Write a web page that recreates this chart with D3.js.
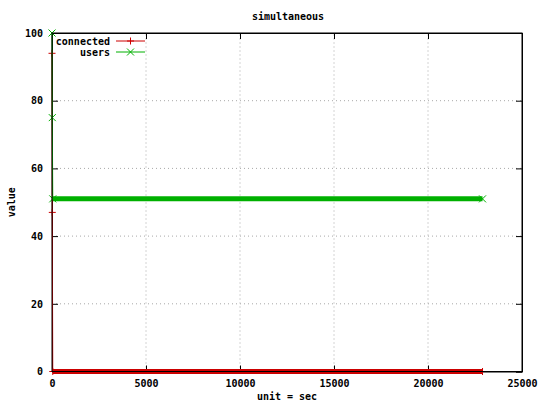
<!DOCTYPE html>
<html>
<head>
<meta charset="UTF-8" />
<title>simultaneous</title>
<script src="https://cdn.jsdelivr.net/npm/d3@7"></script>
<style>
  body { margin: 0; background: #fff; }
  text { font-family: "DejaVu Sans Mono", monospace; font-weight: bold; font-size: 10px; fill: #000; }
</style>
</head>
<body>
<svg id="chart"></svg>
<script>
// data
const connectedTime = [0, 15, 40, 22900];
const connectedValue = [94, 47, 0, 0];
const usersTime = [0, 15, 40, 22900];
const usersValue = [100, 75, 51, 51];
const xTicks = [0, 5000, 10000, 15000, 20000, 25000];
const yTicks = [0, 20, 40, 60, 80, 100];

const width = 540, height = 405;
const margin = {top: 33, right: 18, bottom: 33.5, left: 52};

const svg = d3.select("#chart").attr("width", width).attr("height", height);

const x = d3.scaleLinear().domain([0, 25000]).range([margin.left, width - margin.right]);
const y = d3.scaleLinear().domain([0, 100]).range([height - margin.bottom, margin.top]);

// grid
svg.append("g").selectAll("line").data(xTicks.slice(1, -1)).enter().append("line")
    .attr("x1", d => x(d)).attr("x2", d => x(d))
    .attr("y1", y(0)).attr("y2", y(100))
    .attr("stroke", "#a8a8a8").attr("stroke-dasharray", "1,3");
svg.append("g").selectAll("line").data(yTicks.slice(1, -1)).enter().append("line")
    .attr("x1", x(0)).attr("x2", x(25000))
    .attr("y1", d => y(d)).attr("y2", d => y(d))
    .attr("stroke", "#a8a8a8").attr("stroke-dasharray", "1,3");

// axes, ticks inside + mirrored
const xAxis = svg.append("g").attr("transform", `translate(0,${y(0)})`)
    .call(d3.axisBottom(x).tickValues(xTicks).tickSize(-6).tickPadding(8).tickFormat(d3.format("d")));
const xTop = svg.append("g").attr("transform", `translate(0,${y(100)})`)
    .call(d3.axisTop(x).tickValues(xTicks).tickSize(-6).tickFormat(""));
const yAxis = svg.append("g").attr("transform", `translate(${x(0)},0)`)
    .call(d3.axisLeft(y).tickValues(yTicks).tickSize(-6).tickPadding(9));
const yRight = svg.append("g").attr("transform", `translate(${x(25000)},0)`)
    .call(d3.axisRight(y).tickValues(yTicks).tickSize(-6).tickFormat(""));
[xAxis, xTop, yAxis, yRight].forEach(g => {
  g.select(".domain").attr("stroke", "#000");
  g.selectAll(".tick line").attr("stroke", "#000");
  g.selectAll("text").attr("font-family", null).attr("font-size", null).attr("fill", "#000");
});

// series
const series = [
  {name: "connected", t: connectedTime, v: connectedValue, color: "#cc0000", mark: "plus"},
  {name: "users", t: usersTime, v: usersValue, color: "#00b000", mark: "cross"}
];

const line = d3.line().x(d => x(d[0])).y(d => y(d[1]));

function marker(g, cx, cy, type, color) {
  const s = 3.5;
  const p = type === "plus"
    ? `M${cx - s},${cy}H${cx + s}M${cx},${cy - s}V${cy + s}`
    : `M${cx - s},${cy - s}L${cx + s},${cy + s}M${cx - s},${cy + s}L${cx + s},${cy - s}`;
  g.append("path").attr("d", p).attr("stroke", color).attr("stroke-width", 1).attr("fill", "none");
}

series.forEach(s => {
  const pts = s.t.map((t, i) => [t, s.v[i]]);
  const g = svg.append("g");
  g.append("path").attr("d", line(pts)).attr("fill", "none")
      .attr("stroke", s.color).attr("stroke-width", 1);
  // the dense steady part: markers overlap into a band
  g.append("path").attr("d", line(pts.slice(2))).attr("fill", "none")
      .attr("stroke", s.color).attr("stroke-width", 5);
  pts.forEach(p => marker(g, x(p[0]), y(p[1]), s.mark, s.color));
});

// border on top
svg.append("rect").attr("x", x(0)).attr("y", y(100))
    .attr("width", x(25000) - x(0)).attr("height", y(0) - y(100))
    .attr("fill", "none").attr("stroke", "#000");

// legend
series.forEach((s, i) => {
  const ly = 41 + i * 11;
  svg.append("text").attr("x", 110).attr("y", ly + 3.5).attr("text-anchor", "end").text(s.name);
  svg.append("line").attr("x1", 116).attr("x2", 145).attr("y1", ly).attr("y2", ly)
      .attr("stroke", s.color).attr("stroke-width", 1);
  marker(svg, 130.5, ly, s.mark, s.color);
});

// titles
svg.append("text").attr("x", 288).attr("y", 20).attr("text-anchor", "middle").text("simultaneous");
svg.append("text").attr("x", 287).attr("y", 400).attr("text-anchor", "middle").text("unit = sec");
svg.append("text").attr("transform", `translate(15,${(y(0) + y(100)) / 2}) rotate(-90)`)
    .attr("text-anchor", "middle").text("value");
</script>
</body>
</html>
